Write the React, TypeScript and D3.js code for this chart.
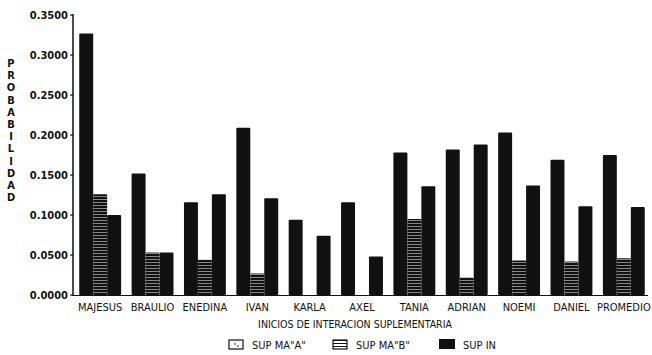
import React from "react";
import * as d3 from "d3";

const categories = ["MAJESUS", "BRAULIO", "ENEDINA", "IVAN", "KARLA", "AXEL", "TANIA", "ADRIAN", "NOEMI", "DANIEL", "PROMEDIO"];
const seriesNames = ["SUP MA\"A\"", "SUP MA\"B\"", "SUP IN"];
const supMaA = [0.327, 0.152, 0.116, 0.209, 0.094, 0.116, 0.178, 0.182, 0.203, 0.169, 0.175];
const supMaB = [0.126, 0.053, 0.044, 0.027, 0, 0, 0.095, 0.022, 0.043, 0.042, 0.046];
const supIn = [0.100, 0.053, 0.126, 0.121, 0.074, 0.048, 0.136, 0.188, 0.137, 0.111, 0.110];
const yTicks = [0, 0.05, 0.1, 0.15, 0.2, 0.25, 0.3, 0.35];
const yTitle = "PROBABILIDAD";
const xTitle = "INICIOS DE INTERACION SUPLEMENTARIA";

const FONT = "'DejaVu Sans Condensed', 'Liberation Sans Narrow', sans-serif";

export default function App() {
  const W = 652, H = 355;
  const x = d3.scaleBand<string>().domain(categories).range([74, 650]).paddingInner(0.2).paddingOuter(0.1);
  const sub = d3.scaleBand<number>().domain([0, 1, 2]).range([0, x.bandwidth()]).padding(0);
  const y = d3.scaleLinear().domain([0, 0.35]).range([295, 15]);
  const series = [supMaA, supMaB, supIn];
  const fills = ["#111", "url(#stripes)", "#111"];

  return (
    <svg width={W} height={H} style={{ position: "absolute", left: 0, top: 0, background: "#fff" }}>
      <defs>
        <pattern id="stripes" patternUnits="userSpaceOnUse" width="4" height="3">
          <rect width="4" height="3" fill="#111" />
          <rect y="1" width="4" height="1" fill="#fff" opacity="0.5" />
        </pattern>
        <pattern id="legstripes" patternUnits="userSpaceOnUse" width="4" height="3">
          <rect width="4" height="3" fill="#fff" />
          <rect y="1" width="4" height="1" fill="#111" />
        </pattern>
      </defs>
      {/* y axis title */}
      <text fontFamily={FONT} fontSize={11} fontWeight="bold" fill="#111" textAnchor="middle">
        {yTitle.split("").map((c, i) => (
          <tspan key={i} x={11} y={67 + i * 12.2}>{c}</tspan>
        ))}
      </text>
      {/* y ticks */}
      {yTicks.map((t) => (
        <g key={t}>
          <line x1={70} x2={73} y1={y(t)} y2={y(t)} stroke="#111" strokeWidth={1.2} />
          <text x={68} y={y(t) + 4} textAnchor="end" fontFamily={FONT} fontSize={11} fontWeight="bold" fill="#111">
            {d3.format(".4f")(t)}
          </text>
        </g>
      ))}
      {/* bars */}
      {categories.map((c, i) => (
        <g key={c} transform={`translate(${x(c)},0)`}>
          {series.map((s, k) =>
            s[i] > 0 ? (
              <rect key={k} x={sub(k)} y={y(s[i])} width={sub.bandwidth()} height={y(0) - y(s[i])} fill={fills[k]} rx={1} />
            ) : null
          )}
        </g>
      ))}
      {/* axes lines */}
      <line x1={73} x2={73} y1={14} y2={296} stroke="#111" strokeWidth={1.5} />
      <line x1={73} x2={648} y1={295.5} y2={295.5} stroke="#111" strokeWidth={1.2} />
      {/* x labels */}
      {categories.map((c) => (
        <text key={c} x={(x(c) as number) + x.bandwidth() / 2} y={311} textAnchor="middle" fontFamily={FONT} fontSize={11} fill="#111">
          {c}
        </text>
      ))}
      <text x={355} y={328} textAnchor="middle" fontFamily={FONT} fontSize={10.5} fill="#111">{xTitle}</text>
      {/* legend */}
      <g fontFamily={FONT} fontSize={11} fill="#111">
        <rect x={229} y={340} width={14} height={9} fill="#fff" stroke="#111" strokeWidth={1.2} />
        <circle cx={235} cy={344} r={0.8} fill="#111" />
        <circle cx={238} cy={346} r={0.8} fill="#111" />
        <text x={252} y={349}>{seriesNames[0]}</text>
        <rect x={333} y={340} width={14} height={9} fill="url(#legstripes)" stroke="#111" strokeWidth={1.2} />
        <text x={356} y={349}>{seriesNames[1]}</text>
        <rect x={439} y={339} width={16} height={10} fill="#111" />
        <text x={463} y={349}>{seriesNames[2]}</text>
      </g>
    </svg>
  );
}
